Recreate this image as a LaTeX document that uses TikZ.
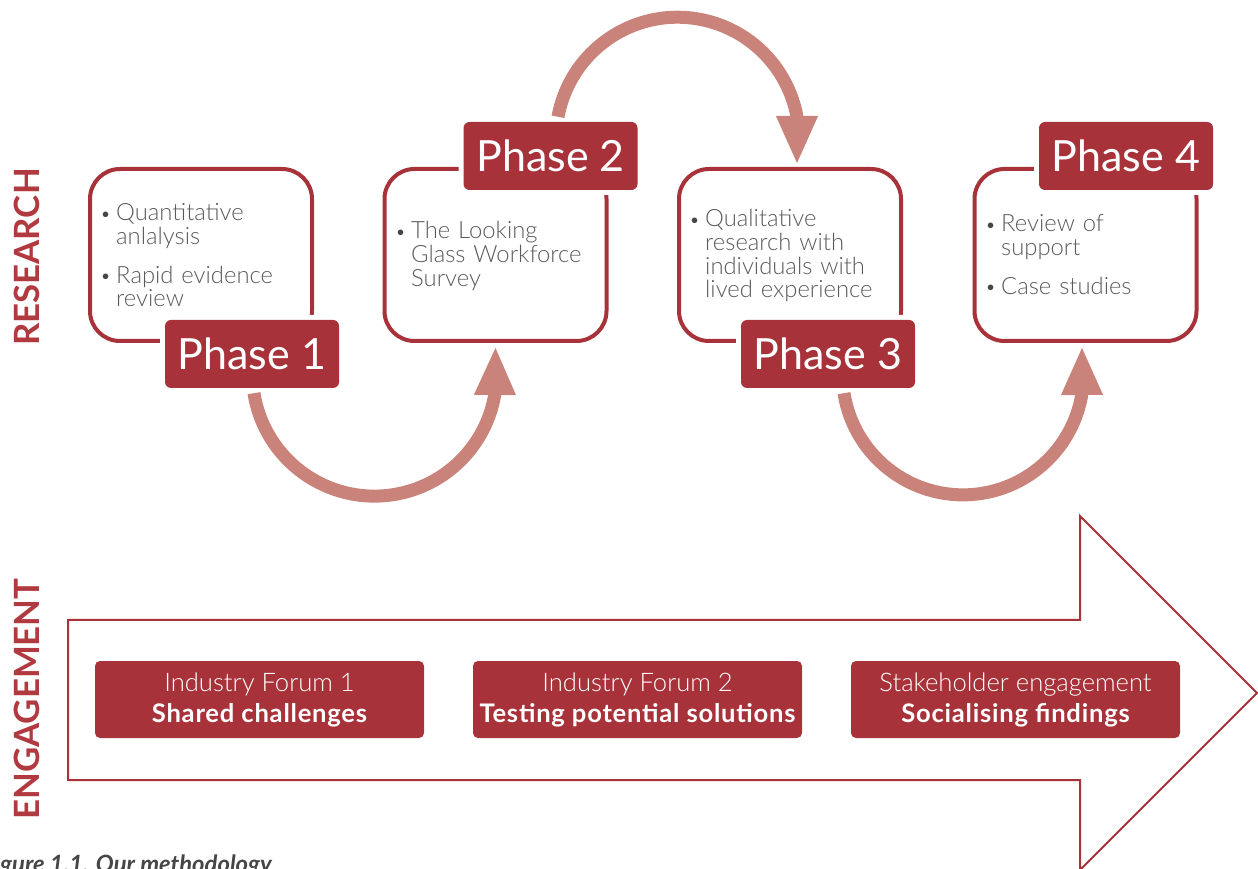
\documentclass[tikz,border=0pt]{standalone}
\usepackage{fontspec}
\setmainfont{Lato}[UprightFont=* Light, BoldFont=* Bold, ItalicFont=* Italic, BoldItalicFont=* Bold Italic]
\newfontfamily\regfont{Lato}
\newfontfamily\engbold{Lato}[UprightFont=* Bold, LetterSpace=3]
\usetikzlibrary{arrows.meta}
\definecolor{mred}{RGB}{168,50,58}
\definecolor{sidered}{RGB}{176,58,64}
\definecolor{arrowpink}{RGB}{201,131,122}
\definecolor{bodygray}{RGB}{90,90,90}
\definecolor{capgray}{RGB}{70,70,70}
\newcommand\bul{\leavevmode\llap{{\color{capgray}\fontsize{19}{19}\selectfont\raisebox{0.5pt}{\textbullet}}\hspace{5pt}}}
\begin{document}
\begin{tikzpicture}[x=1pt,y=1pt,
  phasebox/.style={draw=mred,line width=4pt,rounded corners=30pt,minimum width=222pt,minimum height=172pt,inner sep=0pt},
  phaselabel/.style={fill=mred,rounded corners=6pt,minimum width=174pt,minimum height=68pt,inner sep=0pt,text=white,font=\regfont\fontsize{43}{43}\selectfont,preaction={draw=white,line width=10pt}},
  bodytext/.style={anchor=base west,text width=200pt,align=left,inner sep=0pt,text=bodygray,font=\fontsize{23.8}{23.6}\selectfont},
  engbox/.style={fill=mred,rounded corners=5pt,minimum width=329pt,minimum height=77pt,inner sep=0pt,text=white,align=center,font=\fontsize{25.6}{31}\selectfont},
  sidelabel/.style={rotate=90,text=sidered,font=\bfseries\fontsize{34.8}{35}\selectfont,inner sep=0pt},
  curvearrow/.style={draw=arrowpink,line width=13pt,-{Triangle[length=49pt,width=38pt]}}
]
\useasboundingbox (0,0) rectangle (1258,868);

% engagement arrow outline
\draw[mred,line width=2pt,line join=miter] (68,248) -- (1080,248) -- (1080,352) -- (1257,175) -- (1080,-2) -- (1080,88) -- (68,88) -- cycle;

% side labels
\node[sidelabel] (research) at (27,611) {RESEARCH};
\node[sidelabel] (engagement) at (27,169) {ENGAGEMENT};

% phase boxes
\node[phasebox] (b1) at (201,613) {};
\node[phasebox] (b2) at (495.5,613) {};
\node[phasebox] (b3) at (790,613) {};
\node[phasebox] (b4) at (1085.5,613) {};

% box texts
\node[bodytext] (t1) at (116,647) {\bul Quantitative\\anlalysis\\[15pt]\bul Rapid evidence\\review};
\node[bodytext] (t2) at (411,629) {\bul The Looking\\Glass Workforce\\Survey};
\node[bodytext] (t3) at (705,641) {\bul Qualitative\\research with\\individuals with\\lived experience};
\node[bodytext] (t4) at (1001,636) {\bul Review of\\support\\[15pt]\bul Case studies};

% phase labels
\node[phaselabel] (p1) at (252,514) {Phase 1};
\node[phaselabel] (p2) at (550.5,712) {Phase 2};
\node[phaselabel] (p3) at (828,514) {Phase 3};
\node[phaselabel] (p4) at (1126,712) {Phase 4};

% curved arrows
\draw[curvearrow] ([xshift=2pt,yshift=-5pt]p1.south) arc[start angle=189,end angle=351,radius=122] -- ([yshift=-3pt]b2.south);
\draw[curvearrow] ([xshift=7.5pt,yshift=5pt]p2.north) arc[start angle=169.6,end angle=10.4,radius=121.5] -- ([xshift=7pt,yshift=2pt]b3.north);
\draw[curvearrow] ([xshift=16pt,yshift=-5pt]p3.south) arc[start angle=189,end angle=351,radius=120.5] -- ([xshift=-3.5pt,yshift=-3pt]b4.south);

% engagement boxes
\node[engbox] (e1) at (259.5,168.5) {Industry Forum 1\\{\engbold Shared challenges}};
\node[engbox] (e2) at (637.5,168.5) {Industry Forum 2\\{\engbold Testing potential solutions}};
\node[engbox] (e3) at (1015.5,168.5) {Stakeholder engagement\\{\engbold Socialising findings}};

% caption
\node[anchor=base west,inner sep=0pt,text=capgray,font=\bfseries\itshape\fontsize{23.8}{24}\selectfont] (caption) at (0,-4) {\llap{Fi}gure 1.1. Our methodology};
\end{tikzpicture}
\end{document}
